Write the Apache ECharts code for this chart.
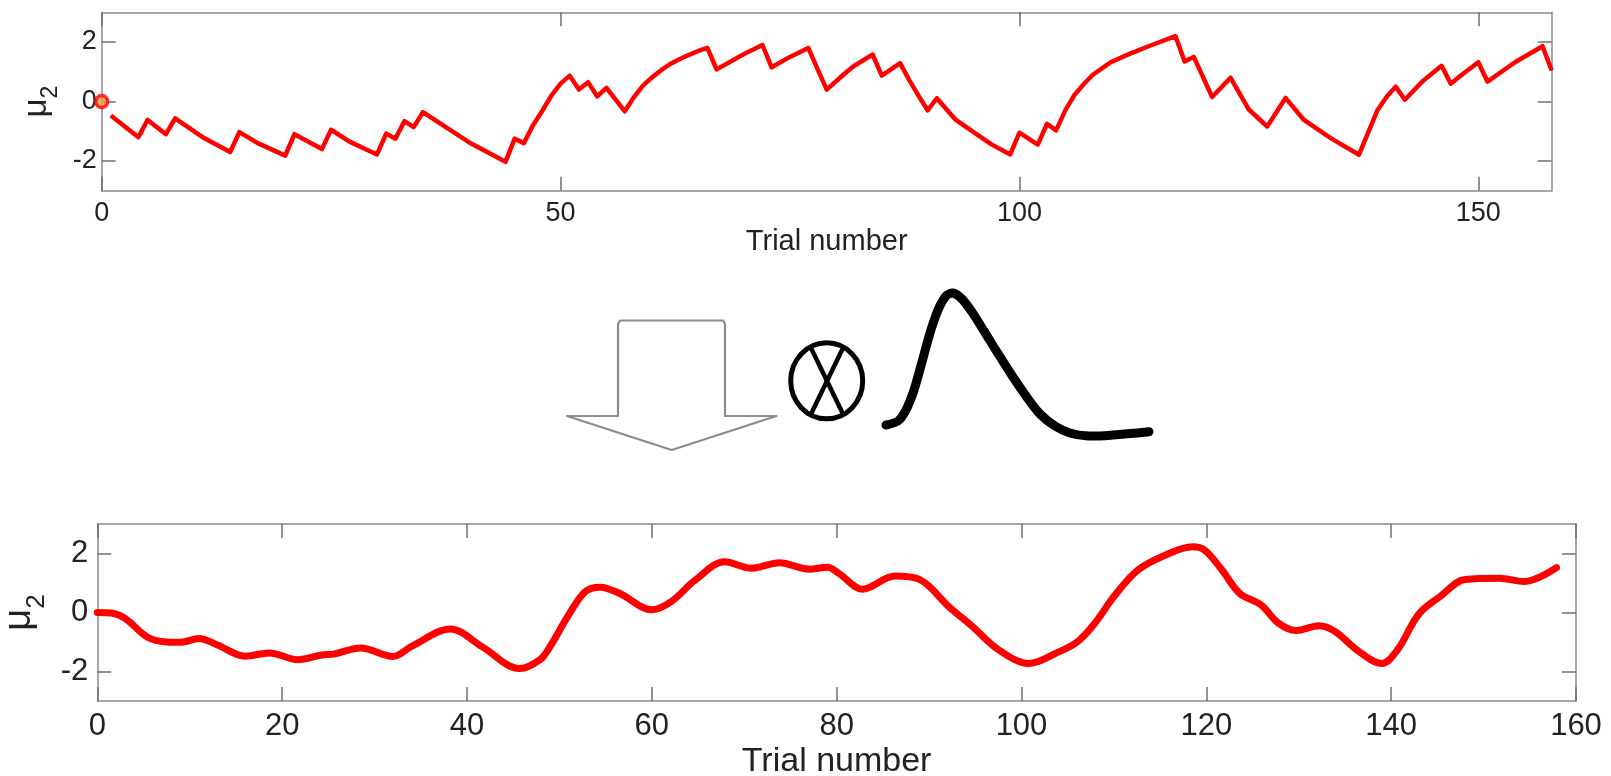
<!DOCTYPE html>
<html>
<head>
<meta charset="utf-8">
<script src="https://cdn.jsdelivr.net/npm/echarts@6/dist/echarts.min.js"></script>
<style>
html,body{margin:0;padding:0;background:#ffffff;}
#c{width:1611px;height:776px;}
</style>
</head>
<body>
<div id="c"></div>
<script>
// ---- data ----
const topTrials = [1,4,5,7,8,11,14,15,17,20,21,24,25,27,30,31,32,33,34,35,40,44,45,46,47,48,49,50,51,52,53,54,55,57,58,59,60,61,62,63,64,65,66,67,70,72,73,75,77,78,79,81,82,84,85,87,88,89,90,91,93,95,97,99,100,102,103,104,105,106,107,108,110,112,114,117,118,119,121,123,125,127,129,131,134,137,138,139,140,141,142,144,146,147,148,150,151,154,157,158];
const topMu = [-0.47,-1.2,-0.62,-1.1,-0.57,-1.2,-1.7,-1.03,-1.4,-1.82,-1.1,-1.6,-0.95,-1.35,-1.78,-1.08,-1.25,-0.66,-0.86,-0.36,-1.37,-2.03,-1.25,-1.4,-0.8,-0.32,0.2,0.6,0.87,0.4,0.65,0.17,0.46,-0.33,0.15,0.54,0.82,1.06,1.27,1.43,1.57,1.7,1.8,1.08,1.6,1.9,1.15,1.5,1.8,1.1,0.4,0.95,1.2,1.58,0.87,1.29,0.72,0.2,-0.3,0.11,-0.6,-1.03,-1.45,-1.78,-1.05,-1.45,-0.75,-0.97,-0.3,0.22,0.58,0.9,1.33,1.6,1.85,2.2,1.35,1.5,0.15,0.8,-0.27,-0.84,0.12,-0.62,-1.25,-1.79,-1.05,-0.3,0.15,0.5,0.06,0.7,1.2,0.6,0.85,1.32,0.67,1.32,1.86,1.04];
const startTrial = [0];
const startMu = [0];
const smoothTrials = [0,1.5,3,5.5,7.5,9,11,13,16,18.6,21.7,24.3,25.6,28.5,32,34,38.2,41.6,45.7,47.9,49,51,52.8,54.4,56.5,60,62.1,64.7,67.9,70.8,73.8,77,79,80.3,82.8,86.3,88.9,92.3,94.5,97.5,100.8,103.8,106.1,108,110,112.6,115.6,118.5,119.8,121.7,123.6,125.9,127.8,129.7,132.2,133.9,136.5,139,140.7,143,145.3,148,151.7,154.4,157.9];
const smoothMu = [0,-0.02,-0.2,-0.85,-1.0,-1.01,-0.88,-1.1,-1.48,-1.37,-1.6,-1.44,-1.41,-1.2,-1.49,-1.15,-0.56,-1.15,-1.9,-1.6,-1.15,-0.08,0.71,0.86,0.65,0.09,0.37,1.1,1.72,1.5,1.69,1.47,1.53,1.31,0.79,1.24,1.13,0.15,-0.42,-1.26,-1.73,-1.37,-0.98,-0.34,0.54,1.44,1.95,2.23,2.12,1.44,0.65,0.26,-0.36,-0.61,-0.45,-0.64,-1.32,-1.73,-1.26,-0.05,0.54,1.12,1.16,1.05,1.52];
const topXTicks = [0,50,100,150];
const bottomXTicks = [0,20,40,60,80,100,120,140,160];
const yTicks = [-2,0,2];
const xLabel = 'Trial number';
const yLabel = '{m|μ}{s|2}';

// ---- chart ----
const FONT = 'Liberation Sans, Arial, Helvetica, sans-serif';
const TXT = '#222222';
const AX = '#8a8a8a';
const chart = echarts.init(document.getElementById('c'), null, {renderer: 'canvas'});

function frameAxis(gridIndex, min, max, ticks, pos, showLabel, fontSize, margin, extra) {
  return Object.assign({
    type: 'value', gridIndex: gridIndex, min: min, max: max, position: pos,
    axisLine: {show: true, onZero: false, lineStyle: {color: AX, width: 1.5}},
    axisTick: {show: true, inside: true, length: 14, customValues: ticks, lineStyle: {color: '#707070', width: 1.5}},
    axisLabel: {show: showLabel, customValues: ticks, fontSize: fontSize, color: TXT, fontFamily: FONT, margin: margin},
    splitLine: {show: false}
  }, extra || {});
}

const option = {
  animation: false,
  backgroundColor: '#ffffff',
  grid: [
    {left: 101.7, top: 12.3, width: 1450, height: 178.4, containLabel: false, outerBoundsMode: 'none'},
    {left: 97.3, top: 524, width: 1478.7, height: 177, containLabel: false, outerBoundsMode: 'none'}
  ],
  xAxis: [
    frameAxis(0, 0, 158, topXTicks, 'bottom', true, 27, 9, {
      name: xLabel, nameLocation: 'middle', nameGap: 30,
      nameTextStyle: {fontSize: 29, color: TXT, fontFamily: FONT}
    }),
    frameAxis(0, 0, 158, topXTicks, 'top', false, 27, 9),
    frameAxis(1, 0, 160, bottomXTicks, 'bottom', true, 31, 10, {
      name: xLabel, nameLocation: 'middle', nameGap: 44,
      nameTextStyle: {fontSize: 34, color: TXT, fontFamily: FONT}
    }),
    frameAxis(1, 0, 160, bottomXTicks, 'top', false, 31, 10)
  ],
  yAxis: [
    frameAxis(0, -3, 3, yTicks, 'left', true, 27, 5, {
      name: yLabel, nameLocation: 'middle', nameRotate: 90, nameGap: 37,
      nameTextStyle: {color: TXT, fontFamily: FONT, rich: {
        m: {fontSize: 33, lineHeight: 50, color: TXT, fontFamily: FONT},
        s: {fontSize: 23, lineHeight: 24, verticalAlign: 'bottom', color: TXT, fontFamily: FONT}
      }}
    }),
    frameAxis(0, -3, 3, yTicks, 'right', false, 27, 5),
    frameAxis(1, -3, 3, yTicks, 'left', true, 31, 9, {
      name: yLabel, nameLocation: 'middle', nameRotate: 90, nameGap: 46,
      nameTextStyle: {color: TXT, fontFamily: FONT, rich: {
        m: {fontSize: 38, lineHeight: 61, color: TXT, fontFamily: FONT},
        s: {fontSize: 26, lineHeight: 26, verticalAlign: 'bottom', color: TXT, fontFamily: FONT}
      }}
    }),
    frameAxis(1, -3, 3, yTicks, 'right', false, 31, 9)
  ],
  series: [
    {
      type: 'line', xAxisIndex: 0, yAxisIndex: 0,
      data: topTrials.map((t, i) => [t, topMu[i]]),
      showSymbol: false, clip: false,
      lineStyle: {color: '#ff0000', width: 4.5, join: 'round'}
    },
    {
      type: 'scatter', xAxisIndex: 0, yAxisIndex: 0,
      data: startTrial.map((t, i) => [t, startMu[i]]),
      symbol: 'circle', symbolSize: 12, clip: false,
      itemStyle: {color: '#f0a040', borderColor: '#ff0000', borderWidth: 3.5}
    },
    {
      type: 'line', xAxisIndex: 2, yAxisIndex: 2,
      data: smoothTrials.map((t, i) => [t, smoothMu[i]]),
      showSymbol: false, smooth: 0.35, clip: false,
      lineStyle: {color: '#ff0000', width: 7, cap: 'round'}
    }
  ],
  graphic: [
    { // hollow down arrow
      type: 'polygon',
      shape: {points: [[618, 324], [620, 320.5], [723, 320.5], [725, 324], [725, 416], [776.5, 416], [671.7, 450], [567, 416], [618, 416]]},
      style: {fill: '#ffffff', stroke: '#8c8c8c', lineWidth: 2.2, lineJoin: 'round'}
    },
    { // convolution symbol circle
      type: 'ellipse',
      shape: {cx: 826.7, cy: 380.8, rx: 36, ry: 38},
      style: {fill: 'none', stroke: '#000000', lineWidth: 5}
    },
    {
      type: 'line',
      shape: {x1: 811, y1: 348, x2: 843, y2: 414},
      style: {stroke: '#000000', lineWidth: 4.5}
    },
    {
      type: 'line',
      shape: {x1: 843, y1: 348, x2: 811, y2: 414},
      style: {stroke: '#000000', lineWidth: 4.5}
    },
    { // kernel shape
      type: 'polyline',
      shape: {
        points: [[886, 425], [898, 421], [906, 410], [914, 390], [922, 362], [930, 333], [938, 310], [946, 296], [953, 293], [962, 299], [972, 312], [984, 331], [997, 352], [1011, 374], [1026, 396], [1040, 414], [1055, 426], [1070, 433], [1088, 436], [1113, 435], [1149, 431.7]],
        smooth: 0.3
      },
      style: {fill: 'none', stroke: '#000000', lineWidth: 9, lineCap: 'round', lineJoin: 'round'}
    }
  ]
};
chart.setOption(option);
</script>
</body>
</html>
